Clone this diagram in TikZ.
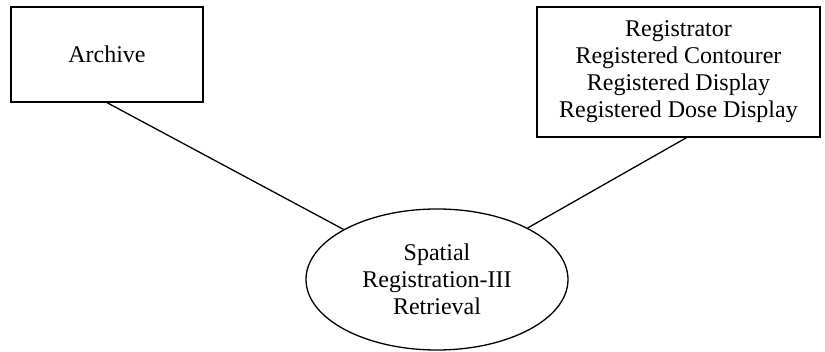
\documentclass[tikz,border=0pt]{standalone}
\usepackage{fontspec}
\setmainfont{Liberation Serif}
\usetikzlibrary{shapes.geometric}

\begin{document}
\begin{tikzpicture}[x=1pt, y=1pt, line width=1.3pt,
  every node/.style={align=center, font=\fontsize{24}{27}\selectfont},
  roombox/.style={draw, rectangle, inner sep=0pt},
  roleoval/.style={draw, ellipse, inner sep=0pt}]
\useasboundingbox (0,0) rectangle (825,-352);
\node (arch) [roombox, minimum width=192, minimum height=95] at (107,-54.5) {Archive};
\node (reg) [roombox, minimum width=283, minimum height=130] at (678.5,-72) {Registrator\\Registered Contourer\\Registered Display\\Registered Dose Display};
\node (ret) [roleoval, minimum width=262, minimum height=141] at (437,-279.5) {Spatial\\Registration-III\\Retrieval};
\draw (arch.south) -- (ret);
\draw ([xshift=8]reg.south) -- (ret);
\end{tikzpicture}
\end{document}
